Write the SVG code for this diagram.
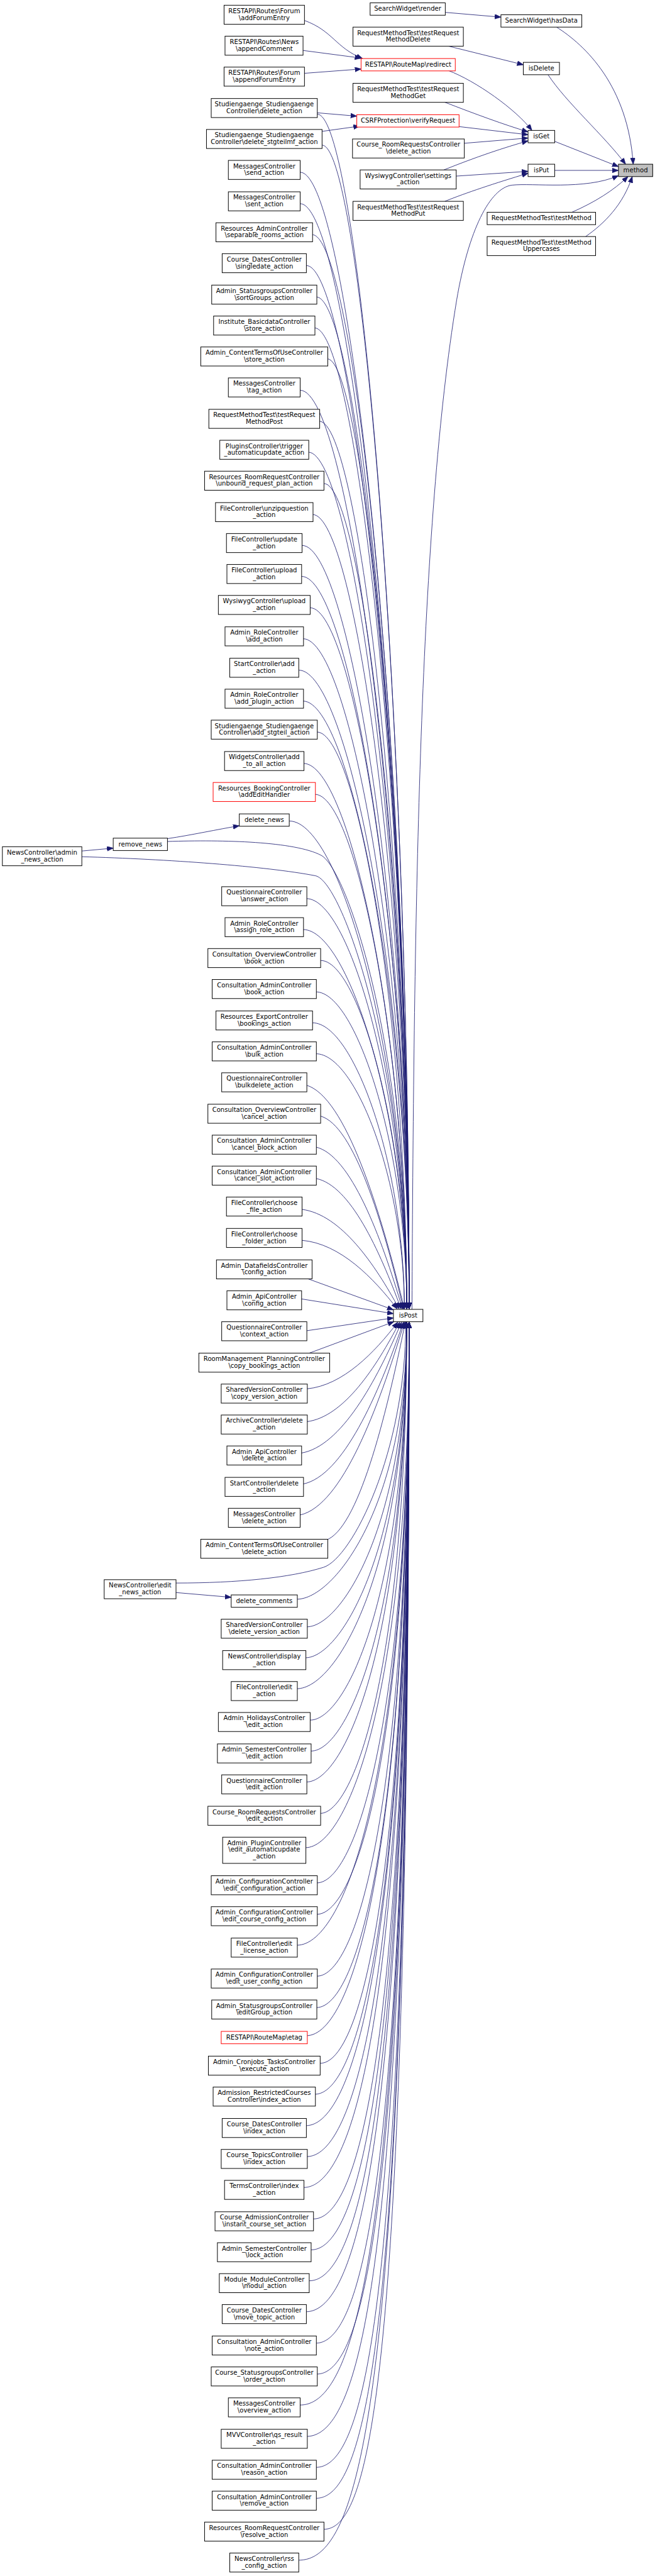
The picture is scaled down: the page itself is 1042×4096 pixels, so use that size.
<svg xmlns="http://www.w3.org/2000/svg" width="1042" height="4096" viewBox="0 0 1042 4096">
<defs>
<style>
.n rect{fill:#fff;stroke:#000;stroke-width:1.3}
.n.r rect{stroke:#ff0000}
.n.m rect{fill:#bfbfbf}
text{font-family:"DejaVu Sans","Liberation Sans",sans-serif;font-size:13.33px;text-anchor:middle;fill:#000}
.e path{fill:none;stroke:#191970;stroke-width:1.1;marker-end:url(#a)}
</style>
<marker id="a" markerUnits="userSpaceOnUse" markerWidth="14" markerHeight="11" refX="13" refY="5" orient="auto"><path d="M0,0 L13,5 L0,10 z" fill="#191970" stroke="#191970" stroke-width="1"/></marker>
</defs>
<rect width="1042" height="4096" fill="#fff"/>
<g transform="scale(0.7568)">
<g id="edges" class="e">
<path d="M936,26 L1053,36"/>
<path d="M1170,57 C1230,95 1320,180 1331,345"/>
<path d="M943,97 L1100,136"/>
<path d="M1152,157 C1190,215 1270,285 1315,345"/>
<path d="M1166,297 L1300,350"/>
<path d="M1165,358 L1300,358"/>
<path d="M942,148 C1000,170 1085,230 1118,274"/>
<path d="M933,214 C1000,240 1060,262 1110,277"/>
<path d="M965,266 L1110,283"/>
<path d="M976,301 L1110,290"/>
<path d="M933,357 C1000,330 1060,310 1110,296"/>
<path d="M959,370 L1110,360"/>
<path d="M935,423 C980,405 1040,385 1110,364"/>
<path d="M1202,446 C1250,425 1290,400 1320,371"/>
<path d="M1231,497 C1270,470 1310,430 1329,371"/>
<path d="M866,2751 C870,1900 882,1100 960,630 C985,483 1030,395 1076,389 C1120,384 1230,400 1300,369"/>
<path d="M640,43 C700,65 705,100 762,123"/>
<path d="M637,106 L759,122"/>
<path d="M640,154 L759,145"/>
<path d="M667,237 L750,244"/>
<path d="M677,276 L756,265"/>
<path d="M172,1788 L238,1782"/>
<path d="M352,1762 C400,1755 460,1742 503,1735"/>
<path d="M370,3346 L486,3356"/>
<path d="M667,240 C754,240 860,1495 860,2750"/>
<path d="M677,305 C759,305 860,1528 860,2750"/>
<path d="M631,362 C734,362 860,1556 860,2750"/>
<path d="M631,428 C734,428 860,1589 860,2750"/>
<path d="M656,493 C748,493 860,1622 860,2750"/>
<path d="M644,558 C741,558 860,1654 860,2750"/>
<path d="M665,624 C753,624 860,1687 860,2750"/>
<path d="M661,689 C751,689 860,1720 860,2750"/>
<path d="M688,754 C765,754 860,1752 860,2750"/>
<path d="M631,820 C734,820 860,1785 860,2750"/>
<path d="M671,885 C756,885 860,1818 860,2750"/>
<path d="M648,950 C743,950 860,1850 860,2750"/>
<path d="M681,1016 C762,1016 860,1883 860,2750"/>
<path d="M657,1081 C748,1081 860,1916 860,2750"/>
<path d="M635,1146 C736,1146 860,1948 860,2750"/>
<path d="M634,1211 C736,1211 860,1981 860,2750"/>
<path d="M652,1277 C746,1277 860,2014 860,2750"/>
<path d="M637,1342 C737,1342 860,2046 860,2750"/>
<path d="M628,1408 C732,1408 860,2079 860,2750"/>
<path d="M637,1473 C737,1473 860,2112 860,2750"/>
<path d="M666,1538 C751,1538 855,2144 855,2750"/>
<path d="M638,1604 C736,1604 855,2177 855,2750"/>
<path d="M662,1669 C749,1669 855,2210 855,2750"/>
<path d="M608,1725 C719,1725 855,2238 855,2750"/>
<path d="M352,1768 C470,1764 620,1768 675,1797 C730,1826 855,2200 855,2750"/>
<path d="M172,1800 C350,1805 560,1820 663,1840 C723,1852 855,2250 855,2750"/>
<path d="M644,1888 C739,1888 855,2319 855,2750"/>
<path d="M637,1953 C735,1953 855,2352 855,2750"/>
<path d="M674,2018 C755,2018 855,2384 855,2750"/>
<path d="M664,2084 C750,2084 855,2417 855,2750"/>
<path d="M657,2149 C744,2149 850,2450 850,2750"/>
<path d="M664,2214 C748,2214 850,2482 850,2750"/>
<path d="M644,2280 C726,2304 799,2539 850,2750"/>
<path d="M674,2345 C744,2365 805,2568 848,2750"/>
<path d="M664,2410 C737,2427 801,2597 846,2750"/>
<path d="M664,2476 C736,2490 798,2627 843,2750"/>
<path d="M635,2541 C717,2552 788,2656 839,2750"/>
<path d="M635,2606 C715,2613 785,2685 835,2750"/>
<path d="M645,2686 L827,2752"/>
<path d="M633,2729 L827,2760"/>
<path d="M644,2796 L827,2769"/>
<path d="M650,2843 L828,2777"/>
<path d="M645,2918 C721,2911 788,2841 836,2778"/>
<path d="M645,2987 C723,2977 791,2872 840,2778"/>
<path d="M633,3053 C717,3039 791,2902 844,2778"/>
<path d="M637,3118 C721,3101 795,2931 848,2778"/>
<path d="M631,3183 C719,3163 795,2960 850,2778"/>
<path d="M685,3236 C752,3213 810,2984 852,2778"/>
<path d="M370,3326 C500,3326 610,3315 680,3293 C740,3274 853,3050 853,2778"/>
<path d="M624,3360 C703,3360 855,3161 855,2778"/>
<path d="M645,3418 C718,3418 855,3202 855,2778"/>
<path d="M642,3483 C718,3483 855,3250 855,2778"/>
<path d="M624,3548 C708,3548 855,3299 855,2778"/>
<path d="M652,3614 C728,3614 855,3348 855,2778"/>
<path d="M654,3679 C731,3679 855,3398 855,2778"/>
<path d="M644,3744 C726,3744 855,3448 855,2778"/>
<path d="M673,3810 C745,3810 855,3501 855,2778"/>
<path d="M642,3882 C731,3882 860,3560 860,2778"/>
<path d="M666,3956 C747,3956 860,3620 860,2778"/>
<path d="M666,4022 C749,4022 860,3675 860,2778"/>
<path d="M624,4087 C726,4087 860,3730 860,2778"/>
<path d="M666,4152 C752,4152 860,3785 860,2778"/>
<path d="M665,4218 C753,4218 860,3844 860,2778"/>
<path d="M644,4277 C743,4277 860,3895 860,2778"/>
<path d="M673,4335 C760,4335 860,3947 860,2778"/>
<path d="M662,4400 C756,4400 860,4006 860,2778"/>
<path d="M643,4466 C748,4466 860,4066 860,2778"/>
<path d="M645,4531 C751,4531 860,4126 860,2778"/>
<path d="M638,4596 C749,4596 860,4189 860,2778"/>
<path d="M659,4662 C761,4662 860,4251 860,2778"/>
<path d="M654,4727 C760,4727 860,4314 860,2778"/>
<path d="M650,4792 C760,4792 860,4377 860,2778"/>
<path d="M643,4857 C759,4857 860,4441 860,2778"/>
<path d="M664,4923 C770,4923 860,4509 860,2778"/>
<path d="M666,4988 C773,4988 860,4575 860,2778"/>
<path d="M631,5053 C759,5053 860,4641 860,2778"/>
<path d="M644,5119 C766,5119 860,4709 860,2778"/>
<path d="M664,5184 C777,5184 860,4777 860,2778"/>
<path d="M664,5249 C778,5249 860,4849 860,2778"/>
<path d="M681,5314 C787,5314 860,4918 860,2778"/>
<path d="M628,5379 C767,5379 860,4989 860,2778"/>
</g>
<g id="nodes">
<g id="n_method" class="n m"><rect x="1300" y="345" width="72" height="26"/><text x="1336" y="362">method</text></g>
<g id="n_hasData" class="n"><rect x="1053" y="31" width="170" height="26"/><text x="1138" y="48">SearchWidget\hasData</text></g>
<g id="n_isDelete" class="n"><rect x="1100" y="131" width="76" height="26"/><text x="1138" y="148">isDelete</text></g>
<g id="n_isGet" class="n"><rect x="1110" y="274" width="56" height="26"/><text x="1138" y="291">isGet</text></g>
<g id="n_isPut" class="n"><rect x="1110" y="345" width="56" height="26"/><text x="1138" y="362">isPut</text></g>
<g id="n_testMethod" class="n"><rect x="1024" y="446" width="228" height="26"/><text x="1138" y="463">RequestMethodTest\testMethod</text></g>
<g id="n_testMethodUpper" class="n"><rect x="1024" y="497" width="228" height="40"/><text x="1138" y="513.5">RequestMethodTest\testMethod</text><text x="1138" y="527.7">Uppercases</text></g>
<g id="n_isPost" class="n"><rect x="827" y="2751" width="62" height="26"/><text x="858" y="2768">isPost</text></g>
<g id="n_searchRender" class="n"><rect x="778" y="6" width="158" height="26"/><text x="857" y="23">SearchWidget\render</text></g>
<g id="n_testDelete" class="n"><rect x="742" y="57" width="232" height="40"/><text x="858" y="73.5">RequestMethodTest\testRequest</text><text x="858" y="87.7">MethodDelete</text></g>
<g id="n_redirect" class="n r"><rect x="759" y="123" width="198" height="26"/><text x="858" y="140">RESTAPI\RouteMap\redirect</text></g>
<g id="n_testGet" class="n"><rect x="742" y="175" width="232" height="40"/><text x="858" y="191.5">RequestMethodTest\testRequest</text><text x="858" y="205.7">MethodGet</text></g>
<g id="n_csrf" class="n r"><rect x="750" y="241" width="215" height="26"/><text x="857.5" y="258">CSRFProtection\verifyRequest</text></g>
<g id="n_crrDelete" class="n"><rect x="741" y="292" width="235" height="40"/><text x="858.5" y="308.5">Course_RoomRequestsController</text><text x="858.5" y="322.7">\delete_action</text></g>
<g id="n_wysSettings" class="n"><rect x="757" y="357" width="202" height="40"/><text x="858" y="373.5">WysiwygController\settings</text><text x="858" y="387.7">_action</text></g>
<g id="n_testPut" class="n"><rect x="742" y="423" width="232" height="40"/><text x="858" y="439.5">RequestMethodTest\testRequest</text><text x="858" y="453.7">MethodPut</text></g>
<g id="n_addForum" class="n"><rect x="471" y="11" width="169" height="40"/><text x="555.5" y="27.5">RESTAPI\Routes\Forum</text><text x="555.5" y="41.7">\addForumEntry</text></g>
<g id="n_appendComment" class="n"><rect x="473" y="76" width="164" height="40"/><text x="555.5" y="92.5">RESTAPI\Routes\News</text><text x="555.5" y="106.7">\appendComment</text></g>
<g id="n_appendForum" class="n"><rect x="471" y="141" width="169" height="40"/><text x="555.5" y="157.5">RESTAPI\Routes\Forum</text><text x="555.5" y="171.7">\appendForumEntry</text></g>
<g id="n_studDel" class="n"><rect x="444" y="207" width="223" height="40"/><text x="555.5" y="223.5">Studiengaenge_Studiengaenge</text><text x="555.5" y="237.7">Controller\delete_action</text></g>
<g id="n_studStg" class="n"><rect x="434" y="272" width="243" height="40"/><text x="555.5" y="288.5">Studiengaenge_Studiengaenge</text><text x="555.5" y="302.7">Controller\delete_stgteilmf_action</text></g>
<g id="n_send" class="n"><rect x="480" y="337" width="151" height="40"/><text x="555.5" y="353.5">MessagesController</text><text x="555.5" y="367.7">\send_action</text></g>
<g id="n_sent" class="n"><rect x="480" y="403" width="151" height="40"/><text x="555.5" y="419.5">MessagesController</text><text x="555.5" y="433.7">\sent_action</text></g>
<g id="n_separable" class="n"><rect x="454" y="468" width="203" height="40"/><text x="555.5" y="484.5">Resources_AdminController</text><text x="555.5" y="498.7">\separable_rooms_action</text></g>
<g id="n_singledate" class="n"><rect x="467" y="533" width="177" height="40"/><text x="555.5" y="549.5">Course_DatesController</text><text x="555.5" y="563.7">\singledate_action</text></g>
<g id="n_sortGroups" class="n"><rect x="445" y="599" width="221" height="40"/><text x="555.5" y="615.5">Admin_StatusgroupsController</text><text x="555.5" y="629.7">\sortGroups_action</text></g>
<g id="n_instStore" class="n"><rect x="449" y="664" width="213" height="40"/><text x="555.5" y="680.5">Institute_BasicdataController</text><text x="555.5" y="694.7">\store_action</text></g>
<g id="n_ctStore" class="n"><rect x="422" y="729" width="267" height="40"/><text x="555.5" y="745.5">Admin_ContentTermsOfUseController</text><text x="555.5" y="759.7">\store_action</text></g>
<g id="n_tag" class="n"><rect x="480" y="794" width="151" height="40"/><text x="555.5" y="810.5">MessagesController</text><text x="555.5" y="824.7">\tag_action</text></g>
<g id="n_testPost" class="n"><rect x="439" y="860" width="233" height="40"/><text x="555.5" y="876.5">RequestMethodTest\testRequest</text><text x="555.5" y="890.7">MethodPost</text></g>
<g id="n_trigger" class="n"><rect x="462" y="925" width="187" height="40"/><text x="555.5" y="941.5">PluginsController\trigger</text><text x="555.5" y="955.7">_automaticupdate_action</text></g>
<g id="n_unbound" class="n"><rect x="430" y="990" width="251" height="40"/><text x="555.5" y="1006.5">Resources_RoomRequestController</text><text x="555.5" y="1020.7">\unbound_request_plan_action</text></g>
<g id="n_unzip" class="n"><rect x="453" y="1056" width="205" height="40"/><text x="555.5" y="1072.5">FileController\unzipquestion</text><text x="555.5" y="1086.7">_action</text></g>
<g id="n_update" class="n"><rect x="476" y="1121" width="159" height="40"/><text x="555.5" y="1137.5">FileController\update</text><text x="555.5" y="1151.7">_action</text></g>
<g id="n_upload" class="n"><rect x="477" y="1186" width="157" height="40"/><text x="555.5" y="1202.5">FileController\upload</text><text x="555.5" y="1216.7">_action</text></g>
<g id="n_wysUpload" class="n"><rect x="459" y="1251" width="193" height="40"/><text x="555.5" y="1267.5">WysiwygController\upload</text><text x="555.5" y="1281.7">_action</text></g>
<g id="n_roleAdd" class="n"><rect x="473" y="1317" width="165" height="40"/><text x="555.5" y="1333.5">Admin_RoleController</text><text x="555.5" y="1347.7">\add_action</text></g>
<g id="n_startAdd" class="n"><rect x="483" y="1383" width="145" height="40"/><text x="555.5" y="1399.5">StartController\add</text><text x="555.5" y="1413.7">_action</text></g>
<g id="n_addPlugin" class="n"><rect x="473" y="1448" width="165" height="40"/><text x="555.5" y="1464.5">Admin_RoleController</text><text x="555.5" y="1478.7">\add_plugin_action</text></g>
<g id="n_addStgteil" class="n"><rect x="444" y="1513" width="223" height="40"/><text x="555.5" y="1529.5">Studiengaenge_Studiengaenge</text><text x="555.5" y="1543.7">Controller\add_stgteil_action</text></g>
<g id="n_addToAll" class="n"><rect x="472" y="1579" width="167" height="40"/><text x="555.5" y="1595.5">WidgetsController\add</text><text x="555.5" y="1609.7">_to_all_action</text></g>
<g id="n_addEdit" class="n r"><rect x="448" y="1644" width="215" height="40"/><text x="555.5" y="1660.5">Resources_BookingController</text><text x="555.5" y="1674.7">\addEditHandler</text></g>
<g id="n_deleteNews" class="n"><rect x="503" y="1710" width="105" height="26"/><text x="555.5" y="1727">delete_news</text></g>
<g id="n_removeNews" class="n"><rect x="238" y="1761" width="114" height="26"/><text x="295" y="1778">remove_news</text></g>
<g id="n_adminNews" class="n"><rect x="5" y="1779" width="167" height="40"/><text x="88.5" y="1795.5">NewsController\admin</text><text x="88.5" y="1809.7">_news_action</text></g>
<g id="n_answer" class="n"><rect x="466" y="1863" width="179" height="40"/><text x="555.5" y="1879.5">QuestionnaireController</text><text x="555.5" y="1893.7">\answer_action</text></g>
<g id="n_assignRole" class="n"><rect x="473" y="1928" width="165" height="40"/><text x="555.5" y="1944.5">Admin_RoleController</text><text x="555.5" y="1958.7">\assign_role_action</text></g>
<g id="n_oBook" class="n"><rect x="437" y="1993" width="237" height="40"/><text x="555.5" y="2009.5">Consultation_OverviewController</text><text x="555.5" y="2023.7">\book_action</text></g>
<g id="n_aBook" class="n"><rect x="446" y="2058" width="219" height="40"/><text x="555.5" y="2074.5">Consultation_AdminController</text><text x="555.5" y="2088.7">\book_action</text></g>
<g id="n_bookings" class="n"><rect x="454" y="2124" width="203" height="40"/><text x="555.5" y="2140.5">Resources_ExportController</text><text x="555.5" y="2154.7">\bookings_action</text></g>
<g id="n_bulk" class="n"><rect x="446" y="2189" width="219" height="40"/><text x="555.5" y="2205.5">Consultation_AdminController</text><text x="555.5" y="2219.7">\bulk_action</text></g>
<g id="n_bulkdelete" class="n"><rect x="466" y="2254" width="179" height="40"/><text x="555.5" y="2270.5">QuestionnaireController</text><text x="555.5" y="2284.7">\bulkdelete_action</text></g>
<g id="n_oCancel" class="n"><rect x="437" y="2320" width="237" height="40"/><text x="555.5" y="2336.5">Consultation_OverviewController</text><text x="555.5" y="2350.7">\cancel_action</text></g>
<g id="n_cancelBlock" class="n"><rect x="446" y="2385" width="219" height="40"/><text x="555.5" y="2401.5">Consultation_AdminController</text><text x="555.5" y="2415.7">\cancel_block_action</text></g>
<g id="n_cancelSlot" class="n"><rect x="446" y="2450" width="219" height="40"/><text x="555.5" y="2466.5">Consultation_AdminController</text><text x="555.5" y="2480.7">\cancel_slot_action</text></g>
<g id="n_chooseFile" class="n"><rect x="476" y="2515" width="159" height="40"/><text x="555.5" y="2531.5">FileController\choose</text><text x="555.5" y="2545.7">_file_action</text></g>
<g id="n_chooseFolder" class="n"><rect x="476" y="2581" width="159" height="40"/><text x="555.5" y="2597.5">FileController\choose</text><text x="555.5" y="2611.7">_folder_action</text></g>
<g id="n_dfConfig" class="n"><rect x="455" y="2647" width="201" height="40"/><text x="555.5" y="2663.5">Admin_DatafieldsController</text><text x="555.5" y="2677.7">\config_action</text></g>
<g id="n_apiConfig" class="n"><rect x="477" y="2712" width="157" height="40"/><text x="555.5" y="2728.5">Admin_ApiController</text><text x="555.5" y="2742.7">\config_action</text></g>
<g id="n_context" class="n"><rect x="466" y="2777" width="179" height="40"/><text x="555.5" y="2793.5">QuestionnaireController</text><text x="555.5" y="2807.7">\context_action</text></g>
<g id="n_copyBookings" class="n"><rect x="418" y="2843" width="275" height="40"/><text x="555.5" y="2859.5">RoomManagement_PlanningController</text><text x="555.5" y="2873.7">\copy_bookings_action</text></g>
<g id="n_copyVersion" class="n"><rect x="465" y="2908" width="181" height="40"/><text x="555.5" y="2924.5">SharedVersionController</text><text x="555.5" y="2938.7">\copy_version_action</text></g>
<g id="n_archiveDelete" class="n"><rect x="465" y="2973" width="181" height="40"/><text x="555.5" y="2989.5">ArchiveController\delete</text><text x="555.5" y="3003.7">_action</text></g>
<g id="n_apiDelete" class="n"><rect x="477" y="3038" width="157" height="40"/><text x="555.5" y="3054.5">Admin_ApiController</text><text x="555.5" y="3068.7">\delete_action</text></g>
<g id="n_startDelete" class="n"><rect x="473" y="3104" width="165" height="40"/><text x="555.5" y="3120.5">StartController\delete</text><text x="555.5" y="3134.7">_action</text></g>
<g id="n_msgDelete" class="n"><rect x="480" y="3169" width="151" height="40"/><text x="555.5" y="3185.5">MessagesController</text><text x="555.5" y="3199.7">\delete_action</text></g>
<g id="n_ctDelete" class="n"><rect x="422" y="3234" width="267" height="40"/><text x="555.5" y="3250.5">Admin_ContentTermsOfUseController</text><text x="555.5" y="3264.7">\delete_action</text></g>
<g id="n_editNews" class="n"><rect x="219" y="3319" width="151" height="40"/><text x="294.5" y="3335.5">NewsController\edit</text><text x="294.5" y="3349.7">_news_action</text></g>
<g id="n_deleteComments" class="n"><rect x="486" y="3351" width="139" height="26"/><text x="555.5" y="3368">delete_comments</text></g>
<g id="n_deleteVersion" class="n"><rect x="465" y="3402" width="181" height="40"/><text x="555.5" y="3418.5">SharedVersionController</text><text x="555.5" y="3432.7">\delete_version_action</text></g>
<g id="n_display" class="n"><rect x="468" y="3468" width="175" height="40"/><text x="555.5" y="3484.5">NewsController\display</text><text x="555.5" y="3498.7">_action</text></g>
<g id="n_fileEdit" class="n"><rect x="486" y="3533" width="139" height="40"/><text x="555.5" y="3549.5">FileController\edit</text><text x="555.5" y="3563.7">_action</text></g>
<g id="n_holidays" class="n"><rect x="459" y="3598" width="193" height="40"/><text x="555.5" y="3614.5">Admin_HolidaysController</text><text x="555.5" y="3628.7">\edit_action</text></g>
<g id="n_semesterEdit" class="n"><rect x="457" y="3664" width="197" height="40"/><text x="555.5" y="3680.5">Admin_SemesterController</text><text x="555.5" y="3694.7">\edit_action</text></g>
<g id="n_qEdit" class="n"><rect x="466" y="3729" width="179" height="40"/><text x="555.5" y="3745.5">QuestionnaireController</text><text x="555.5" y="3759.7">\edit_action</text></g>
<g id="n_crrEdit" class="n"><rect x="437" y="3795" width="237" height="40"/><text x="555.5" y="3811.5">Course_RoomRequestsController</text><text x="555.5" y="3825.7">\edit_action</text></g>
<g id="n_pluginEdit" class="n"><rect x="468" y="3860" width="175" height="55"/><text x="555.5" y="3876.5">Admin_PluginController</text><text x="555.5" y="3890.7">\edit_automaticupdate</text><text x="555.5" y="3904.9">_action</text></g>
<g id="n_editConfiguration" class="n"><rect x="444" y="3941" width="223" height="40"/><text x="555.5" y="3957.5">Admin_ConfigurationController</text><text x="555.5" y="3971.7">\edit_configuration_action</text></g>
<g id="n_editCourseConfig" class="n"><rect x="444" y="4006" width="223" height="40"/><text x="555.5" y="4022.5">Admin_ConfigurationController</text><text x="555.5" y="4036.7">\edit_course_config_action</text></g>
<g id="n_editLicense" class="n"><rect x="486" y="4072" width="139" height="40"/><text x="555.5" y="4088.5">FileController\edit</text><text x="555.5" y="4102.7">_license_action</text></g>
<g id="n_editUserConfig" class="n"><rect x="444" y="4137" width="223" height="40"/><text x="555.5" y="4153.5">Admin_ConfigurationController</text><text x="555.5" y="4167.7">\edit_user_config_action</text></g>
<g id="n_editGroup" class="n"><rect x="445" y="4202" width="221" height="40"/><text x="555.5" y="4218.5">Admin_StatusgroupsController</text><text x="555.5" y="4232.7">\editGroup_action</text></g>
<g id="n_etag" class="n r"><rect x="465" y="4268" width="181" height="26"/><text x="555.5" y="4285">RESTAPI\RouteMap\etag</text></g>
<g id="n_execute" class="n"><rect x="438" y="4320" width="235" height="40"/><text x="555.5" y="4336.5">Admin_Cronjobs_TasksController</text><text x="555.5" y="4350.7">\execute_action</text></g>
<g id="n_admission" class="n"><rect x="448" y="4385" width="215" height="40"/><text x="555.5" y="4401.5">Admission_RestrictedCourses</text><text x="555.5" y="4415.7">Controller\index_action</text></g>
<g id="n_cdIndex" class="n"><rect x="467" y="4451" width="177" height="40"/><text x="555.5" y="4467.5">Course_DatesController</text><text x="555.5" y="4481.7">\index_action</text></g>
<g id="n_topics" class="n"><rect x="465" y="4516" width="181" height="40"/><text x="555.5" y="4532.5">Course_TopicsController</text><text x="555.5" y="4546.7">\index_action</text></g>
<g id="n_terms" class="n"><rect x="472" y="4581" width="167" height="40"/><text x="555.5" y="4597.5">TermsController\index</text><text x="555.5" y="4611.7">_action</text></g>
<g id="n_instant" class="n"><rect x="452" y="4647" width="207" height="40"/><text x="555.5" y="4663.5">Course_AdmissionController</text><text x="555.5" y="4677.7">\instant_course_set_action</text></g>
<g id="n_lock" class="n"><rect x="457" y="4712" width="197" height="40"/><text x="555.5" y="4728.5">Admin_SemesterController</text><text x="555.5" y="4742.7">\lock_action</text></g>
<g id="n_modul" class="n"><rect x="461" y="4777" width="189" height="40"/><text x="555.5" y="4793.5">Module_ModuleController</text><text x="555.5" y="4807.7">\modul_action</text></g>
<g id="n_moveTopic" class="n"><rect x="467" y="4842" width="177" height="40"/><text x="555.5" y="4858.5">Course_DatesController</text><text x="555.5" y="4872.7">\move_topic_action</text></g>
<g id="n_note" class="n"><rect x="446" y="4908" width="219" height="40"/><text x="555.5" y="4924.5">Consultation_AdminController</text><text x="555.5" y="4938.7">\note_action</text></g>
<g id="n_order" class="n"><rect x="444" y="4973" width="223" height="40"/><text x="555.5" y="4989.5">Course_StatusgroupsController</text><text x="555.5" y="5003.7">\order_action</text></g>
<g id="n_overview" class="n"><rect x="480" y="5038" width="151" height="40"/><text x="555.5" y="5054.5">MessagesController</text><text x="555.5" y="5068.7">\overview_action</text></g>
<g id="n_qsResult" class="n"><rect x="465" y="5104" width="181" height="40"/><text x="555.5" y="5120.5">MVVController\qs_result</text><text x="555.5" y="5134.7">_action</text></g>
<g id="n_reason" class="n"><rect x="446" y="5169" width="219" height="40"/><text x="555.5" y="5185.5">Consultation_AdminController</text><text x="555.5" y="5199.7">\reason_action</text></g>
<g id="n_remove" class="n"><rect x="446" y="5234" width="219" height="40"/><text x="555.5" y="5250.5">Consultation_AdminController</text><text x="555.5" y="5264.7">\remove_action</text></g>
<g id="n_resolve" class="n"><rect x="430" y="5299" width="251" height="40"/><text x="555.5" y="5315.5">Resources_RoomRequestController</text><text x="555.5" y="5329.7">\resolve_action</text></g>
<g id="n_rss" class="n"><rect x="483" y="5364" width="145" height="40"/><text x="555.5" y="5380.5">NewsController\rss</text><text x="555.5" y="5394.7">_config_action</text></g>
</g>
</g>
</svg>
